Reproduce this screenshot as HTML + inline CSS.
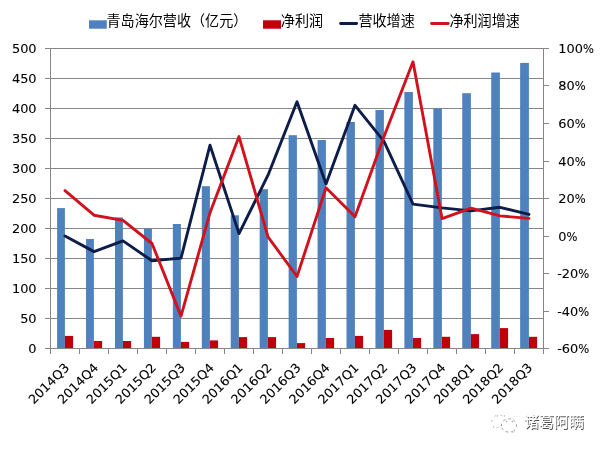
<!DOCTYPE html>
<html lang="zh-CN">
<head>
<meta charset="utf-8">
<title>青岛海尔营收与净利润</title>
<style>
html,body{margin:0;padding:0;background:#fff;}
body{width:603px;height:450px;overflow:hidden;position:relative;}
svg{display:block;position:absolute;left:0;top:0;}
.num{font-family:"DejaVu Sans","Liberation Sans",sans-serif;font-size:12.45px;fill:#000;stroke:#000;stroke-width:0.1px;}
.cjk{font-family:"Liberation Sans","Noto Sans CJK SC",sans-serif;font-size:14.1px;fill:#000;}
.wm{font-family:"Liberation Sans","Noto Sans CJK SC",sans-serif;font-size:15px;font-weight:700;fill:#fff;}
</style>
</head>
<body>
<svg width="603" height="450" viewBox="0 0 603 450">
<rect width="603" height="450" fill="#ffffff"/>
<g stroke="#868686" stroke-width="1" shape-rendering="crispEdges" fill="none">
<line x1="45.0" y1="48.5" x2="543.5" y2="48.5"/>
<line x1="45.0" y1="78.5" x2="543.5" y2="78.5"/>
<line x1="45.0" y1="108.5" x2="543.5" y2="108.5"/>
<line x1="45.0" y1="138.5" x2="543.5" y2="138.5"/>
<line x1="45.0" y1="168.5" x2="543.5" y2="168.5"/>
<line x1="45.0" y1="198.5" x2="543.5" y2="198.5"/>
<line x1="45.0" y1="228.5" x2="543.5" y2="228.5"/>
<line x1="45.0" y1="258.5" x2="543.5" y2="258.5"/>
<line x1="45.0" y1="288.5" x2="543.5" y2="288.5"/>
<line x1="45.0" y1="318.5" x2="543.5" y2="318.5"/>
<line x1="45.0" y1="348.5" x2="543.5" y2="348.5"/>
<line x1="50.5" y1="48.5" x2="50.5" y2="348.5"/>
<line x1="543.5" y1="48.5" x2="543.5" y2="348.5"/>
<line x1="543.5" y1="48.50" x2="549.0" y2="48.50"/>
<line x1="543.5" y1="85.50" x2="549.0" y2="85.50"/>
<line x1="543.5" y1="123.50" x2="549.0" y2="123.50"/>
<line x1="543.5" y1="161.50" x2="549.0" y2="161.50"/>
<line x1="543.5" y1="198.50" x2="549.0" y2="198.50"/>
<line x1="543.5" y1="236.50" x2="549.0" y2="236.50"/>
<line x1="543.5" y1="273.50" x2="549.0" y2="273.50"/>
<line x1="543.5" y1="311.50" x2="549.0" y2="311.50"/>
<line x1="543.5" y1="348.50" x2="549.0" y2="348.50"/>
<line x1="50.5" y1="348.5" x2="50.5" y2="353.5"/>
<line x1="79.5" y1="348.5" x2="79.5" y2="353.5"/>
<line x1="108.5" y1="348.5" x2="108.5" y2="353.5"/>
<line x1="137.5" y1="348.5" x2="137.5" y2="353.5"/>
<line x1="166.5" y1="348.5" x2="166.5" y2="353.5"/>
<line x1="195.5" y1="348.5" x2="195.5" y2="353.5"/>
<line x1="224.5" y1="348.5" x2="224.5" y2="353.5"/>
<line x1="253.5" y1="348.5" x2="253.5" y2="353.5"/>
<line x1="282.5" y1="348.5" x2="282.5" y2="353.5"/>
<line x1="311.5" y1="348.5" x2="311.5" y2="353.5"/>
<line x1="340.5" y1="348.5" x2="340.5" y2="353.5"/>
<line x1="369.5" y1="348.5" x2="369.5" y2="353.5"/>
<line x1="398.5" y1="348.5" x2="398.5" y2="353.5"/>
<line x1="427.5" y1="348.5" x2="427.5" y2="353.5"/>
<line x1="456.5" y1="348.5" x2="456.5" y2="353.5"/>
<line x1="485.5" y1="348.5" x2="485.5" y2="353.5"/>
<line x1="514.5" y1="348.5" x2="514.5" y2="353.5"/>
<line x1="543.5" y1="348.5" x2="543.5" y2="353.5"/>
</g>
<g shape-rendering="auto">
<rect x="57.10" y="208.10" width="7.80" height="139.90" fill="#4f81bd"/>
<rect x="64.90" y="335.90" width="8.20" height="12.10" fill="#be000a"/>
<rect x="86.04" y="239.00" width="7.86" height="109.00" fill="#4f81bd"/>
<rect x="93.90" y="341.00" width="8.20" height="7.00" fill="#be000a"/>
<rect x="114.98" y="217.40" width="7.92" height="130.60" fill="#4f81bd"/>
<rect x="122.90" y="341.00" width="8.20" height="7.00" fill="#be000a"/>
<rect x="143.92" y="228.50" width="7.98" height="119.50" fill="#4f81bd"/>
<rect x="151.90" y="336.80" width="8.20" height="11.20" fill="#be000a"/>
<rect x="172.86" y="224.00" width="8.04" height="124.00" fill="#4f81bd"/>
<rect x="180.90" y="341.90" width="8.20" height="6.10" fill="#be000a"/>
<rect x="201.80" y="186.20" width="8.10" height="161.80" fill="#4f81bd"/>
<rect x="209.90" y="340.40" width="8.20" height="7.60" fill="#be000a"/>
<rect x="230.74" y="215.30" width="8.16" height="132.70" fill="#4f81bd"/>
<rect x="238.90" y="337.10" width="8.20" height="10.90" fill="#be000a"/>
<rect x="259.68" y="189.20" width="8.22" height="158.80" fill="#4f81bd"/>
<rect x="267.90" y="337.10" width="8.20" height="10.90" fill="#be000a"/>
<rect x="288.62" y="135.20" width="8.28" height="212.80" fill="#4f81bd"/>
<rect x="296.90" y="343.10" width="8.20" height="4.90" fill="#be000a"/>
<rect x="317.56" y="140.00" width="8.34" height="208.00" fill="#4f81bd"/>
<rect x="325.90" y="338.00" width="8.20" height="10.00" fill="#be000a"/>
<rect x="346.50" y="122.00" width="8.40" height="226.00" fill="#4f81bd"/>
<rect x="354.90" y="335.90" width="8.20" height="12.10" fill="#be000a"/>
<rect x="375.44" y="110.00" width="8.46" height="238.00" fill="#4f81bd"/>
<rect x="383.90" y="329.90" width="8.20" height="18.10" fill="#be000a"/>
<rect x="404.38" y="92.00" width="8.52" height="256.00" fill="#4f81bd"/>
<rect x="412.90" y="338.00" width="8.20" height="10.00" fill="#be000a"/>
<rect x="433.32" y="108.50" width="8.58" height="239.50" fill="#4f81bd"/>
<rect x="441.90" y="336.80" width="8.20" height="11.20" fill="#be000a"/>
<rect x="462.26" y="93.20" width="8.64" height="254.80" fill="#4f81bd"/>
<rect x="470.90" y="334.10" width="8.20" height="13.90" fill="#be000a"/>
<rect x="491.20" y="72.50" width="8.70" height="275.50" fill="#4f81bd"/>
<rect x="499.90" y="328.10" width="8.20" height="19.90" fill="#be000a"/>
<rect x="520.14" y="62.90" width="8.76" height="285.10" fill="#4f81bd"/>
<rect x="528.90" y="336.80" width="8.20" height="11.20" fill="#be000a"/>
</g>
<polyline points="65.0,236.0 94.0,251.6 123.0,240.9 152.0,260.8 181.0,258.1 210.0,145.2 239.0,233.6 268.0,175.2 297.0,101.8 326.0,183.9 355.0,105.3 384.0,141.3 413.0,204.1 442.0,207.9 471.0,210.9 500.0,207.3 529.0,214.4" fill="none" stroke="#0d1c48" stroke-width="2.9" stroke-linejoin="round" stroke-linecap="round"/>
<polyline points="65.0,190.6 94.0,215.2 123.0,220.4 152.0,243.5 181.0,316.1 210.0,212.8 239.0,136.6 268.0,236.8 297.0,276.5 326.0,187.8 355.0,216.7 384.0,136.6 413.0,61.8 442.0,218.6 471.0,208.1 500.0,215.9 529.0,218.4" fill="none" stroke="#d1121c" stroke-width="2.9" stroke-linejoin="round" stroke-linecap="round"/>
<g class="num" text-anchor="end">
<text transform="translate(36.6,52.7) scale(1.04,1)">500</text>
<text transform="translate(36.6,82.7) scale(1.04,1)">450</text>
<text transform="translate(36.6,112.7) scale(1.04,1)">400</text>
<text transform="translate(36.6,142.7) scale(1.04,1)">350</text>
<text transform="translate(36.6,172.7) scale(1.04,1)">300</text>
<text transform="translate(36.6,202.7) scale(1.04,1)">250</text>
<text transform="translate(36.6,232.7) scale(1.04,1)">200</text>
<text transform="translate(36.6,262.7) scale(1.04,1)">150</text>
<text transform="translate(36.6,292.7) scale(1.04,1)">100</text>
<text transform="translate(36.6,322.7) scale(1.04,1)">50</text>
<text transform="translate(36.6,352.7) scale(1.04,1)">0</text>
</g>
<g class="num" text-anchor="start">
<text transform="translate(558.3,52.7) scale(1.04,1)">100<tspan style="font-size:12.45px" textLength="10.53" lengthAdjust="spacingAndGlyphs">%</tspan></text>
<text transform="translate(558.3,89.7) scale(1.04,1)">80<tspan style="font-size:12.45px" textLength="10.53" lengthAdjust="spacingAndGlyphs">%</tspan></text>
<text transform="translate(558.3,127.7) scale(1.04,1)">60<tspan style="font-size:12.45px" textLength="10.53" lengthAdjust="spacingAndGlyphs">%</tspan></text>
<text transform="translate(558.3,165.7) scale(1.04,1)">40<tspan style="font-size:12.45px" textLength="10.53" lengthAdjust="spacingAndGlyphs">%</tspan></text>
<text transform="translate(558.3,202.7) scale(1.04,1)">20<tspan style="font-size:12.45px" textLength="10.53" lengthAdjust="spacingAndGlyphs">%</tspan></text>
<text transform="translate(558.3,240.7) scale(1.04,1)">0<tspan style="font-size:12.45px" textLength="10.53" lengthAdjust="spacingAndGlyphs">%</tspan></text>
<text transform="translate(557.2,277.7) scale(1.04,1)">-20<tspan style="font-size:12.45px" textLength="10.53" lengthAdjust="spacingAndGlyphs">%</tspan></text>
<text transform="translate(557.2,315.7) scale(1.04,1)">-40<tspan style="font-size:12.45px" textLength="10.53" lengthAdjust="spacingAndGlyphs">%</tspan></text>
<text transform="translate(557.2,352.7) scale(1.04,1)">-60<tspan style="font-size:12.45px" textLength="10.53" lengthAdjust="spacingAndGlyphs">%</tspan></text>
</g>
<g class="num" text-anchor="end">
<text transform="translate(70.0,368.5) rotate(-45) scale(1.04,1)">2014Q3</text>
<text transform="translate(99.0,368.5) rotate(-45) scale(1.04,1)">2014Q4</text>
<text transform="translate(127.9,368.5) rotate(-45) scale(1.04,1)">2015Q1</text>
<text transform="translate(156.8,368.5) rotate(-45) scale(1.04,1)">2015Q2</text>
<text transform="translate(185.8,368.5) rotate(-45) scale(1.04,1)">2015Q3</text>
<text transform="translate(214.8,368.5) rotate(-45) scale(1.04,1)">2015Q4</text>
<text transform="translate(243.7,368.5) rotate(-45) scale(1.04,1)">2016Q1</text>
<text transform="translate(272.6,368.5) rotate(-45) scale(1.04,1)">2016Q2</text>
<text transform="translate(301.6,368.5) rotate(-45) scale(1.04,1)">2016Q3</text>
<text transform="translate(330.6,368.5) rotate(-45) scale(1.04,1)">2016Q4</text>
<text transform="translate(359.5,368.5) rotate(-45) scale(1.04,1)">2017Q1</text>
<text transform="translate(388.4,368.5) rotate(-45) scale(1.04,1)">2017Q2</text>
<text transform="translate(417.4,368.5) rotate(-45) scale(1.04,1)">2017Q3</text>
<text transform="translate(446.4,368.5) rotate(-45) scale(1.04,1)">2017Q4</text>
<text transform="translate(475.3,368.5) rotate(-45) scale(1.04,1)">2018Q1</text>
<text transform="translate(504.2,368.5) rotate(-45) scale(1.04,1)">2018Q2</text>
<text transform="translate(533.2,368.5) rotate(-45) scale(1.04,1)">2018Q3</text>
</g>
<rect x="89" y="20.3" width="17.8" height="8.4" fill="#4f81bd"/>
<text class="cjk" transform="translate(106.5,26.3) scale(1,1.03)">青岛海尔营收（亿元）</text>
<rect x="263" y="20.3" width="18" height="8.4" fill="#be000a"/>
<text class="cjk" transform="translate(280.8,26.3) scale(1,1.03)">净利润</text>
<line x1="340.6" y1="23.5" x2="356.6" y2="23.5" stroke="#0d1c48" stroke-width="2.9" stroke-linecap="round"/>
<text class="cjk" transform="translate(358.4,26.3) scale(1,1.03)">营收增速</text>
<line x1="431.6" y1="23.5" x2="448.2" y2="23.5" stroke="#d1121c" stroke-width="2.9" stroke-linecap="round"/>
<text class="cjk" transform="translate(449.4,26.3) scale(1,1.03)">净利润增速</text>
<g id="wm">
<g fill="#fff" stroke-linecap="round">
<path d="M491.8 421.5 a7 6.3 0 1 1 4.2 5.6 l-2.9 1.3 l0.8 -2.6 a6.6 6 0 0 1 -2.1 -4.3z" stroke="#777" stroke-width="0.7" stroke-dasharray="1.2 5.2" stroke-opacity="0.7"/>
<path d="M501.4 425.6 a7.6 6.6 0 1 1 12.6 4.8 l0.7 2.4 l-2.7 -1.2 a7.6 6.6 0 0 1 -10.6 -6z" stroke="#555" stroke-width="0.8" stroke-dasharray="1.6 3.8" stroke-opacity="0.8"/>
<circle cx="497.4" cy="415.9" r="0.7" fill="#aaa" stroke="none"/>
<circle cx="504.4" cy="415.9" r="0.7" fill="#aaa" stroke="none"/>
<circle cx="506.4" cy="421.6" r="0.7" fill="#999" stroke="none"/>
<circle cx="512.3" cy="421.6" r="0.7" fill="#888" stroke="none"/>
</g>
<text class="wm" x="524.7" y="428.2" style="fill:#505050;font-weight:500">诸葛阿瞒</text>
<text class="wm" x="523.9" y="427.4" style="fill:#fff;font-weight:500">诸葛阿瞒</text>
</g>
</svg>
</body>
</html>
